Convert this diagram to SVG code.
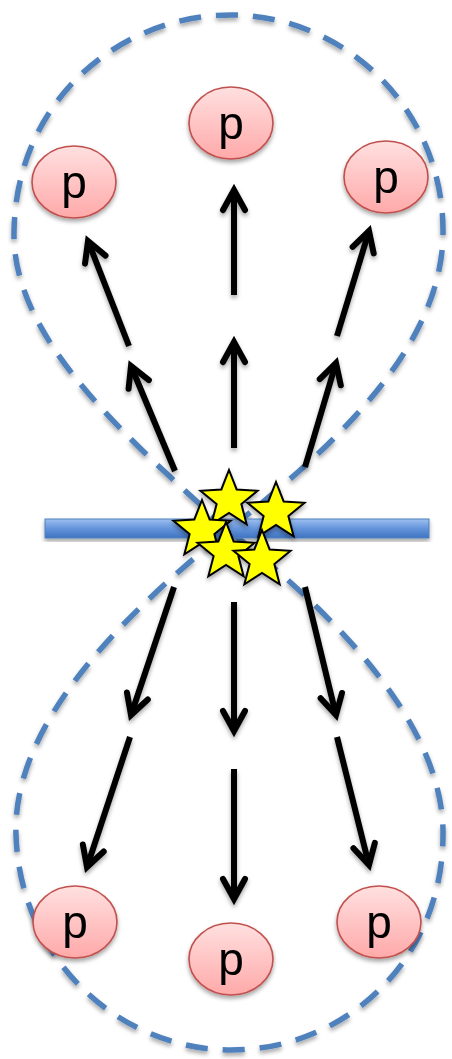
<svg xmlns="http://www.w3.org/2000/svg" width="452" height="1059" viewBox="0 0 452 1059">
<style>
.lobe{fill:none;stroke:#4f81bd;stroke-width:5.5;stroke-dasharray:22 15}
.arrow{fill:none;stroke:#000;stroke-width:6;stroke-linecap:butt;marker-end:url(#ah)}
.node ellipse{fill:url(#pg);stroke:#c0504d;stroke-width:1.6}
.node text{font-family:"Liberation Sans",Arial,sans-serif;font-size:46px;fill:#000;text-anchor:middle}
.star{fill:#ffff00;stroke:#000;stroke-width:2;stroke-linejoin:miter}
</style>
<defs>
<filter id="sh" x="-20%" y="-20%" width="140%" height="140%">
<feDropShadow dx="0" dy="3" stdDeviation="2" flood-color="#000" flood-opacity="0.35"/>
</filter>
<linearGradient id="pg" x1="0" y1="0" x2="0" y2="1">
<stop offset="0" stop-color="#ffe0e0"/>
<stop offset="1" stop-color="#ffa9a9"/>
</linearGradient>
<linearGradient id="bg" x1="0" y1="0" x2="0" y2="1">
<stop offset="0" stop-color="#9ec0f0"/>
<stop offset="0.5" stop-color="#6494dc"/>
<stop offset="1" stop-color="#3f73c0"/>
</linearGradient>
<marker id="ah" markerUnits="userSpaceOnUse" markerWidth="40" markerHeight="40" viewBox="-25 -20 30 40" refX="0" refY="0" orient="auto" overflow="visible">
<path d="M -20 -11 L 0 0 L -20 11" fill="none" stroke="#000" stroke-width="6" stroke-linecap="round" stroke-linejoin="miter"/>
</marker>
<polygon id="starshape" points="0,-30 7.64,-10.52 28.53,-9.27 12.36,4.02 17.63,24.27 0,13 -17.63,24.27 -12.36,4.02 -28.53,-9.27 -7.64,-10.52"/>
</defs>

<g id="lobes" filter="url(#sh)">
<path class="lobe" d="M 228 530 C 130 440, 12 340, 14 232 C 16 100, 120 15, 231 15 C 345 15, 445 110, 443 235 C 441 350, 330 450, 228 530 C 130 610, 12 720, 16 835 C 20 960, 120 1050, 231 1050 C 345 1050, 445 960, 443 830 C 441 720, 330 610, 228 530 Z"/>
</g>

<g id="bar" filter="url(#sh)">
<rect x="45" y="519" width="384" height="19" fill="url(#bg)" stroke="#4f81bd" stroke-width="1"/>
</g>

<g id="connectors" filter="url(#sh)">
<line class="arrow" x1="234" y1="448" x2="234" y2="342"/>
<line class="arrow" x1="234" y1="295" x2="234" y2="190"/>
<line class="arrow" x1="175" y1="471" x2="131" y2="366"/>
<line class="arrow" x1="129" y1="346" x2="88" y2="241"/>
<line class="arrow" x1="305" y1="467" x2="336" y2="363"/>
<line class="arrow" x1="337" y1="336" x2="369" y2="231"/>
<line class="arrow" x1="234" y1="602" x2="234" y2="731"/>
<line class="arrow" x1="234" y1="769" x2="234" y2="899"/>
<line class="arrow" x1="174" y1="587" x2="131" y2="715"/>
<line class="arrow" x1="130" y1="737" x2="87" y2="867"/>
<line class="arrow" x1="305" y1="587" x2="336" y2="715"/>
<line class="arrow" x1="337" y1="737" x2="369" y2="865"/>
</g>

<g id="node-top-left" class="node" filter="url(#sh)">
<ellipse cx="74" cy="182" rx="42" ry="36"/>
<text x="74" y="198">p</text>
</g>
<g id="node-top-center" class="node" filter="url(#sh)">
<ellipse cx="231" cy="123" rx="42" ry="36"/>
<text x="231" y="139">p</text>
</g>
<g id="node-top-right" class="node" filter="url(#sh)">
<ellipse cx="386" cy="177" rx="42" ry="36"/>
<text x="386" y="193">p</text>
</g>
<g id="node-bottom-left" class="node" filter="url(#sh)">
<ellipse cx="75" cy="922" rx="42" ry="36"/>
<text x="75" y="938">p</text>
</g>
<g id="node-bottom-center" class="node" filter="url(#sh)">
<ellipse cx="231" cy="959" rx="42" ry="36"/>
<text x="231" y="975">p</text>
</g>
<g id="node-bottom-right" class="node" filter="url(#sh)">
<ellipse cx="379" cy="922" rx="42" ry="36"/>
<text x="379" y="938">p</text>
</g>

<g id="stars" filter="url(#sh)">
<use href="#starshape" class="star" transform="translate(229,500)"/>
<use href="#starshape" class="star" transform="translate(276,512)"/>
<use href="#starshape" class="star" transform="translate(202,530)"/>
<use href="#starshape" class="star" transform="translate(226,552)"/>
<use href="#starshape" class="star" transform="translate(262,560)"/>
</g>
</svg>
